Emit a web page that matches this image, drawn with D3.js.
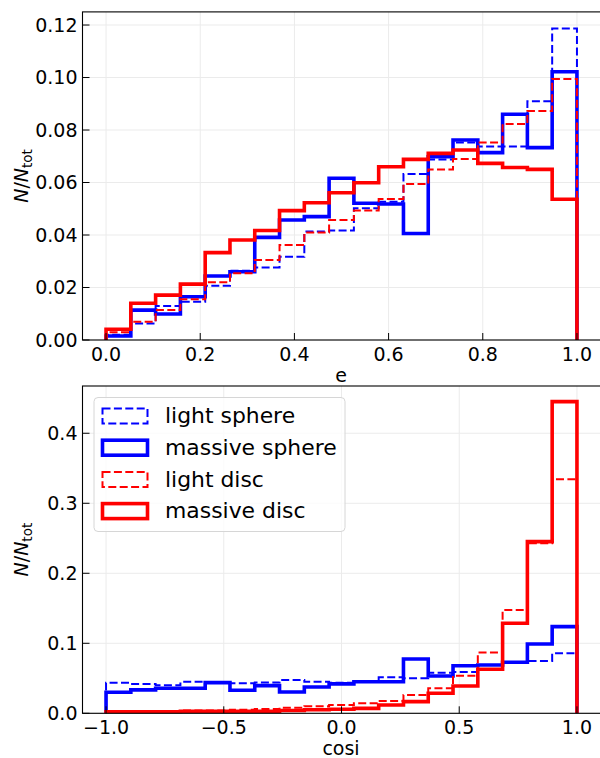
<!DOCTYPE html>
<html>
<head>
<meta charset="utf-8">
<script src="https://cdn.jsdelivr.net/npm/d3@7/dist/d3.min.js"></script>
<style>
  body { margin: 0; background: #fff; }
  svg { font-family: "DejaVu Sans", sans-serif; }
</style>
</head>
<body>
<svg width="600" height="758"></svg>
<script>
// 19 bins on each panel
var nBins = 19;
var eRange = [0, 1];
var cosiRange = [-1, 1];

var seriesNames = ["light sphere", "massive sphere", "light disc", "massive disc"];

// eccentricity histograms (N/Ntot)
var eLightSphere = [0.002, 0.0063, 0.0130, 0.0146, 0.0207, 0.0264, 0.0276, 0.0317, 0.0413, 0.0417,
                    0.0502, 0.0527, 0.0632, 0.0688, 0.0752, 0.0737, 0.0737, 0.0910, 0.1187];
var eMassiveSphere = [0.0015, 0.0114, 0.0099, 0.0165, 0.0244, 0.0260, 0.0391, 0.0457, 0.0470, 0.0616,
                      0.0521, 0.0518, 0.0406, 0.0698, 0.0762, 0.0714, 0.0860, 0.0733, 0.1022];
var eLightDisc = [0.003, 0.0070, 0.0114, 0.0155, 0.0220, 0.0254, 0.0305, 0.0362, 0.0410, 0.0457,
                  0.0493, 0.0537, 0.0594, 0.0650, 0.0690, 0.0752, 0.0823, 0.0872, 0.0994];
var eMassiveDisc = [0.0041, 0.0140, 0.0171, 0.0213, 0.0333, 0.0381, 0.0417, 0.0493, 0.0523, 0.0561,
                    0.0599, 0.0660, 0.0688, 0.0711, 0.0724, 0.0673, 0.0657, 0.0650, 0.0536];

// cos(i) histograms
var cLightSphere = [0.0438, 0.042, 0.040, 0.045, 0.044, 0.043, 0.044, 0.0476, 0.045, 0.0438,
                    0.0452, 0.0514, 0.050, 0.058, 0.059, 0.069, 0.072, 0.0747, 0.0857];
var cMassiveSphere = [0.030, 0.0335, 0.0357, 0.0357, 0.0438, 0.0330, 0.0395, 0.0305, 0.0375, 0.042,
                      0.045, 0.045, 0.0776, 0.0533, 0.068, 0.069, 0.0729, 0.099, 0.1238];
var cLightDisc = [0.003, 0.003, 0.003, 0.004, 0.004, 0.005, 0.006, 0.008, 0.010, 0.0119,
                  0.0143, 0.0176, 0.026, 0.0357, 0.0538, 0.0867, 0.1476, 0.2428, 0.3343];
var cMassiveDisc = [0.002, 0.002, 0.002, 0.003, 0.003, 0.003, 0.003, 0.004, 0.005, 0.0057,
                    0.0071, 0.0119, 0.0167, 0.0286, 0.039, 0.0629, 0.1286, 0.2452, 0.4452];

var eTicksX = [0, 0.2, 0.4, 0.6, 0.8, 1.0];
var eTicksY = [0, 0.02, 0.04, 0.06, 0.08, 0.10, 0.12];
var cTicksX = [-1, -0.5, 0, 0.5, 1.0];
var cTicksY = [0, 0.1, 0.2, 0.3, 0.4];

var styles = [
  {color: "#0000ff", width: 2, dash: "8,3.4"},
  {color: "#0000ff", width: 3.6, dash: null},
  {color: "#ff0000", width: 2, dash: "8,3.4"},
  {color: "#ff0000", width: 3.6, dash: null}
];

var svg = d3.select("svg");
var left = 82.5, right = 600.5;

function edges(range)
{
  return d3.range(nBins + 1).map(function(i) { return range[0] + (range[1] - range[0]) * i / nBins; });
}

function drawPanel(opt)
{
  var x = d3.scaleLinear().domain(opt.xDomain).range([left, right]);
  var y = d3.scaleLinear().domain(opt.yDomain).range([opt.bottom, opt.top]);
  var g = svg.append("g");

  g.append("clipPath").attr("id", opt.id)
   .append("rect")
   .attr("x", left).attr("y", opt.top)
   .attr("width", right - left).attr("height", opt.bottom - opt.top);

  // grid
  g.selectAll(".gx").data(opt.ticksX).enter().append("line")
   .attr("x1", function(d) { return x(d); }).attr("x2", function(d) { return x(d); })
   .attr("y1", opt.top).attr("y2", opt.bottom)
   .style("stroke", "#ebebeb").style("stroke-width", 1);
  g.selectAll(".gy").data(opt.ticksY).enter().append("line")
   .attr("y1", function(d) { return y(d); }).attr("y2", function(d) { return y(d); })
   .attr("x1", left).attr("x2", right)
   .style("stroke", "#ebebeb").style("stroke-width", 1);

  var ed = edges(opt.binRange);
  var line = d3.line().x(function(p) { return x(p[0]); }).y(function(p) { return y(p[1]); });

  opt.series.forEach(function(vals, k)
  {
    var pts = [[ed[0], 0]];
    vals.forEach(function(v, i) { pts.push([ed[i], v]); pts.push([ed[i + 1], v]); });
    pts.push([ed[nBins], 0]);
    g.append("path")
     .attr("d", line(pts))
     .attr("clip-path", "url(#" + opt.id + ")")
     .style("fill", "none")
     .style("stroke", styles[k].color)
     .style("stroke-width", styles[k].width)
     .style("stroke-dasharray", styles[k].dash)
     .style("stroke-linejoin", "miter");
  });

  // frame (right spine falls just outside the picture)
  g.append("rect")
   .attr("x", left).attr("y", opt.top)
   .attr("width", right - left + 2).attr("height", opt.bottom - opt.top)
   .style("fill", "none").style("stroke", "#000").style("stroke-width", 1.1);

  // ticks, pointing inwards
  g.selectAll(".tx").data(opt.ticksX).enter().append("line")
   .attr("x1", function(d) { return x(d); }).attr("x2", function(d) { return x(d); })
   .attr("y1", opt.bottom).attr("y2", opt.bottom - 7)
   .style("stroke", "#000");
  g.selectAll(".ty").data(opt.ticksY).enter().append("line")
   .attr("y1", function(d) { return y(d); }).attr("y2", function(d) { return y(d); })
   .attr("x1", left).attr("x2", left + 7)
   .style("stroke", "#000");

  g.selectAll(".lx").data(opt.ticksX).enter().append("text")
   .attr("x", function(d) { return x(d); })
   .attr("y", opt.bottom + 20.5)
   .attr("text-anchor", "middle")
   .style("font-size", "19px")
   .text(function(d) { return d3.format(".1f")(d).replace("-", "\u2212"); });
  g.selectAll(".ly").data(opt.ticksY).enter().append("text")
   .attr("x", left - 5)
   .attr("y", function(d) { return y(d); })
   .attr("dy", "0.36em")
   .attr("text-anchor", "end")
   .style("font-size", "19px")
   .text(function(d) { return d3.format(opt.yFmt)(d); });

  g.append("text")
   .attr("x", (x(opt.xDomain[0]) + x(opt.xDomain[1])) / 2 - 0.5)
   .attr("y", opt.bottom + 42)
   .attr("text-anchor", "middle")
   .style("font-size", "19px")
   .text(opt.xLabel);

  var yl = g.append("text")
   .attr("transform", "translate(28," + ((opt.top + opt.bottom) / 2) + ") rotate(-90)")
   .attr("text-anchor", "middle")
   .style("font-size", "19px");
  yl.append("tspan").style("font-style", "italic").text("N");
  yl.append("tspan").text("/");
  yl.append("tspan").style("font-style", "italic").text("N");
  yl.append("tspan").attr("dy", 4).style("font-size", "13.5px").text("tot");

  return {x: x, y: y, g: g};
}

drawPanel({
  id: "clipE", top: 11.9, bottom: 340,
  xDomain: [-0.05, 1.05], yDomain: [0, 0.125],
  ticksX: eTicksX, ticksY: eTicksY, yFmt: ".2f",
  binRange: eRange, xLabel: "e",
  series: [eLightSphere, eMassiveSphere, eLightDisc, eMassiveDisc]
});

drawPanel({
  id: "clipC", top: 386, bottom: 713.3,
  xDomain: [-1.1, 1.1], yDomain: [0, 0.4675],
  ticksX: cTicksX, ticksY: cTicksY, yFmt: ".1f",
  binRange: cosiRange, xLabel: "cosi",
  series: [cLightSphere, cMassiveSphere, cLightDisc, cMassiveDisc]
});

// legend in the lower panel
var lg = svg.append("g").attr("transform", "translate(94,397.5)");
lg.append("rect")
  .attr("width", 251).attr("height", 134).attr("rx", 4)
  .style("fill", "#fff").style("fill-opacity", 0.8)
  .style("stroke", "#d6d6d6").style("stroke-width", 1);

seriesNames.forEach(function(name, k)
{
  var cy = 18.5 + k * 31.7;
  lg.append("rect")
    .attr("x", 8.5).attr("y", cy - 7.5)
    .attr("width", 45).attr("height", 15)
    .style("fill", "none")
    .style("stroke", styles[k].color)
    .style("stroke-width", styles[k].width)
    .style("stroke-dasharray", styles[k].dash);
  lg.append("text")
    .attr("x", 71).attr("y", cy)
    .attr("dy", "0.33em")
    .style("font-size", "21.9px")
    .text(name);
});
</script>
</body>
</html>
